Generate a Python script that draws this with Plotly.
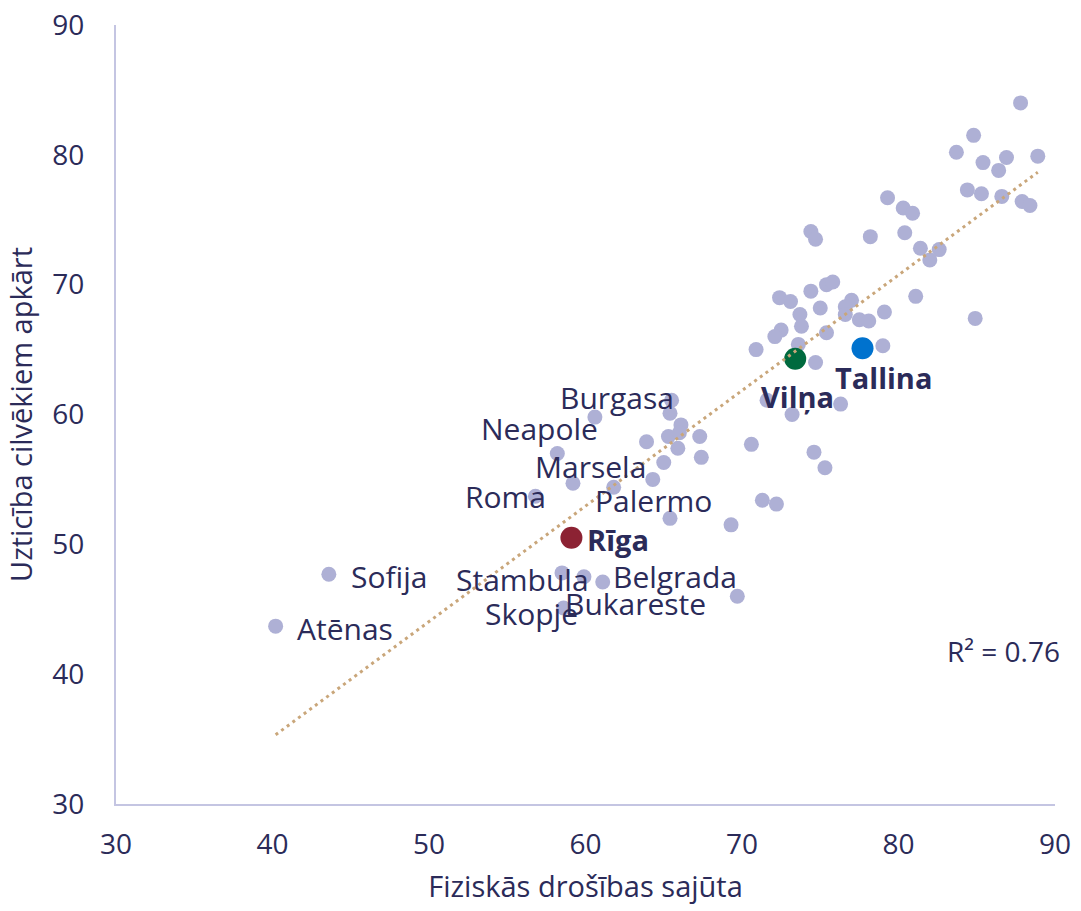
import numpy as np
import plotly.graph_objects as go

# ---------------- data ----------------
other_x = [87.8, 84.8, 83.7, 85.4, 86.9, 88.9, 86.4, 84.4, 85.3, 86.6, 87.9, 88.4,
           79.3, 80.3, 80.9, 78.2, 80.4, 81.4, 82.6, 82.0, 81.1, 84.9, 79.1, 77.5,
           78.1, 77.0, 76.6, 76.6, 74.4, 74.7, 72.4, 73.1, 74.4, 75.4, 75.8, 73.7,
           75.0, 73.8, 72.5, 72.1, 75.4, 73.6, 70.9, 74.7, 79.0, 73.2, 71.6, 76.3,
           70.6, 74.6, 75.3, 71.3, 72.2, 69.3, 65.4, 69.7, 65.5, 65.4, 66.1, 65.3,
           66.0, 65.9, 67.3, 63.9, 67.4, 65.0, 61.8]
other_y = [84.0, 81.5, 80.2, 79.4, 79.8, 79.9, 78.8, 77.3, 77.0, 76.8, 76.4, 76.1,
           76.7, 75.9, 75.5, 73.7, 74.0, 72.8, 72.7, 71.9, 69.1, 67.4, 67.9, 67.3,
           67.2, 68.8, 68.3, 67.7, 74.1, 73.5, 69.0, 68.7, 69.5, 70.0, 70.2, 67.7,
           68.2, 66.8, 66.5, 66.0, 66.3, 65.4, 65.0, 64.0, 65.3, 60.0, 61.1, 60.8,
           57.7, 57.1, 55.9, 53.4, 53.1, 51.5, 52.0, 46.0, 61.1, 60.1, 59.2, 58.3,
           58.6, 57.4, 58.3, 57.9, 56.7, 56.3, 54.4]

labeled_names = ["Atēnas", "Sofija", "Stambula", "Skopje", "Bukareste", "Belgrada",
                 "Roma", "Palermo", "Marsela", "Neapole", "Burgasa"]
labeled_x = [40.2, 43.6, 58.5, 58.6, 59.9, 61.1, 56.8, 64.3, 59.2, 58.2, 60.6]
labeled_y = [43.7, 47.7, 47.8, 45.1, 47.5, 47.1, 53.7, 55.0, 54.7, 57.0, 59.8]

highlight_names = ["Rīga", "Vilņa", "Tallina"]
highlight_x = [59.1, 73.4, 77.7]
highlight_y = [50.5, 64.3, 65.1]

r2_text = "R² = 0.76"
x_title = "Fiziskās drošības sajūta"
y_title = "Uzticība cilvēkiem apkārt"
tick_vals = [30, 40, 50, 60, 70, 80, 90]

# ---------------- style ----------------
TEXT = "#2B2B59"
GRAY = "#AEB0D5"
AXIS = "#C4C5E2"
TREND = "#C9A67A"
FONT = "Open Sans"
highlight_colors = {"Rīga": "#8C2233", "Vilņa": "#006A3E", "Tallina": "#0072CE"}
label_offsets = {
    "Atēnas": (69, -2), "Sofija": (60, -2), "Stambula": (-40, -7), "Skopje": (-32, -6),
    "Bukareste": (52, -27), "Belgrada": (72, 5), "Roma": (-30, 0), "Palermo": (1, -21),
    "Marsela": (18, 17), "Neapole": (-18, 25), "Burgasa": (22, 20),
    "Rīga": (47, -2), "Vilņa": (2, -38), "Tallina": (21, -29),
}

fig = go.Figure()

fig.add_trace(go.Scatter(x=other_x + labeled_x, y=other_y + labeled_y, mode="markers",
                         marker=dict(size=15, color=GRAY), hoverinfo="skip", showlegend=False))
fig.add_trace(go.Scatter(x=highlight_x, y=highlight_y, mode="markers",
                         marker=dict(size=22, color=[highlight_colors[n] for n in highlight_names]),
                         hoverinfo="skip", showlegend=False))

# linear trend over all points
all_x = np.array(other_x + labeled_x + highlight_x)
all_y = np.array(other_y + labeled_y + highlight_y)
slope, intercept = np.polyfit(all_x, all_y, 1)
tx = np.array([all_x.min(), all_x.max()])
fig.add_trace(go.Scatter(x=tx, y=slope * tx + intercept, mode="lines",
                         line=dict(color=TREND, width=3, dash="3px,4px"),
                         hoverinfo="skip", showlegend=False))

annotations = []
for n, x, y in zip(labeled_names, labeled_x, labeled_y):
    dx, dy = label_offsets[n]
    annotations.append(dict(x=x, y=y, xref="x", yref="y", text=n, showarrow=False,
                            xshift=dx, yshift=dy, xanchor="center", yanchor="middle",
                            font=dict(family=FONT, size=30, color=TEXT)))
for n, x, y in zip(highlight_names, highlight_x, highlight_y):
    dx, dy = label_offsets[n]
    annotations.append(dict(x=x, y=y, xref="x", yref="y", text="<b>" + n + "</b>", showarrow=False,
                            xshift=dx, yshift=dy, xanchor="center", yanchor="middle",
                            font=dict(family=FONT, size=29, color=TEXT)))
annotations.append(dict(x=1.0075, y=0.196, xref="paper", yref="paper", text=r2_text,
                        showarrow=False, xanchor="right", yanchor="middle",
                        font=dict(family=FONT, size=28, color=TEXT)))

fig.update_layout(
    width=1081, height=911,
    margin=dict(l=116, r=26, t=25, b=107),
    paper_bgcolor="white", plot_bgcolor="white",
    font=dict(family=FONT, color=TEXT),
    annotations=annotations,
    hovermode=False,
)
fig.update_xaxes(range=[30, 90], tickvals=tick_vals, showgrid=False, zeroline=False,
                 showline=True, linecolor=AXIS, linewidth=2,
                 ticks="outside", ticklen=14, tickcolor="rgba(0,0,0,0)",
                 tickfont=dict(family=FONT, size=28, color=TEXT),
                 ticklabeloverflow="allow",
                 title=dict(text=x_title, font=dict(family=FONT, size=29, color=TEXT), standoff=16),
                 automargin=False)
fig.update_yaxes(range=[30, 90], tickvals=tick_vals, showgrid=False, zeroline=False,
                 showline=True, linecolor=AXIS, linewidth=2,
                 ticks="outside", ticklen=24, tickcolor="rgba(0,0,0,0)",
                 tickfont=dict(family=FONT, size=28, color=TEXT),
                 ticklabeloverflow="allow",
                 title=dict(text=y_title, font=dict(family=FONT, size=29, color=TEXT), standoff=11),
                 automargin=False)

fig.write_html("out.html", config={"displayModeBar": False},
               post_script="document.body.style.margin='0';")
